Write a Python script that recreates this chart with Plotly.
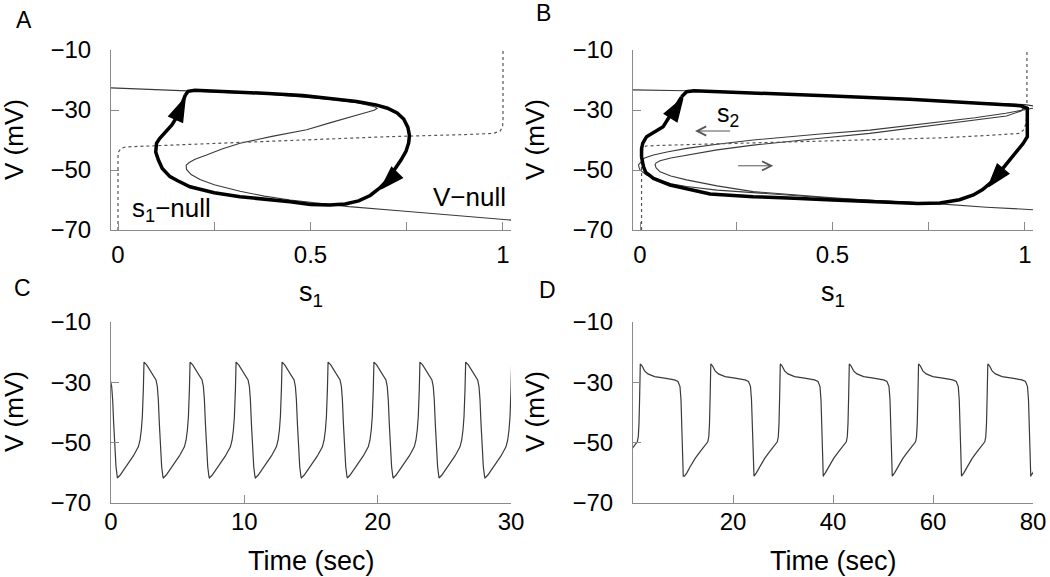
import plotly.graph_objects as go

# ---------------- Panel A (phase plane) ----------------
A_vnull_s = [-0.02, 0.18, 0.39, 0.56, 0.62, 0.65, 0.668, 0.673,
             0.665, 0.64, 0.60, 0.55, 0.49, 0.40, 0.317, 0.27, 0.23, 0.20, 0.185, 0.177,
             0.178, 0.19, 0.213, 0.25, 0.317, 0.38, 0.447, 0.533, 0.60, 0.73, 0.85, 0.95, 1.03]
A_vnull_v = [-22.6, -23.6, -24.7, -26.6, -27.6, -28.4, -29.0, -29.5,
             -30.1, -31.0, -32.4, -34.3, -36.6, -38.8, -41.1, -43.0, -45.0, -46.4, -47.5, -48.4,
             -49.8, -51.5, -53.2, -54.9, -57.1, -58.7, -60.0, -61.3, -62.2, -63.6, -64.9, -65.9, -66.8]
A_snull_s = [0.0, 0.0, 0.002, 0.008, 0.02, 0.1, 0.3, 0.5, 0.7, 0.9, 0.975, 0.993, 0.999, 1.0, 1.0]
A_snull_v = [-70, -45.5, -43.8, -42.8, -42.3, -41.9, -40.9, -39.8, -38.9, -38.2, -37.8, -37.0, -35.5, -33, -10]
A_orbit_s = [0.175, 0.182, 0.20, 0.30, 0.39, 0.48, 0.56, 0.62, 0.67, 0.70, 0.725, 0.742, 0.753, 0.757,
             0.755, 0.748, 0.735, 0.718, 0.70, 0.68, 0.655, 0.625, 0.59, 0.55, 0.50, 0.447, 0.38,
             0.317, 0.25, 0.187, 0.155, 0.135, 0.115, 0.105, 0.098, 0.1, 0.108, 0.122, 0.14, 0.152,
             0.16, 0.166, 0.171, 0.175]
A_orbit_v = [-25.0, -23.8, -23.4, -23.9, -24.5, -25.2, -26.2, -27.2, -28.3, -29.4, -31.0, -33.0, -35.8, -38.5,
             -41.0, -43.8, -46.7, -50.0, -53.3, -56.0, -58.5, -60.3, -61.3, -61.7, -61.5, -60.6, -59.7,
             -58.9, -57.6, -55.6, -53.6, -52.2, -49.5, -46.7, -44.0, -41.1, -39.5, -37.5, -35.0, -32.5,
             -30.0, -27.8, -26.0, -25.0]
# arrowheads: (point behind, tip)
A_arrow_s = [0.150, 0.174, 0.725, 0.683]
A_arrow_v = [-33.0, -26.1, -50.8, -56.3]

# ---------------- Panel B (phase plane) ----------------
B_n1_s = [-0.02, 0.12, 0.3, 0.5, 0.7, 0.85, 0.95, 1.0, 1.025, 1.03,
          1.02, 0.98, 0.95, 0.87, 0.779, 0.69, 0.597, 0.468, 0.38, 0.294, 0.2, 0.121, 0.07, 0.035,
          0.012, 0.002, -0.004,
          -0.002, 0.0, 0.017, 0.04, 0.08, 0.121, 0.2, 0.294, 0.4, 0.5, 0.6, 0.7, 0.779, 0.9, 1.03]
B_n1_v = [-23.3, -23.6, -24.4, -25.4, -26.5, -27.3, -27.9, -28.2, -28.5, -28.8,
          -29.4, -30.4, -31.1, -32.6, -33.9, -35.3, -36.7, -38.0, -39.0, -40.0, -41.4, -42.8, -44.0, -45.0,
          -46.0, -47.3, -48.3,
          -49.3, -50.0, -51.7, -53.0, -54.6, -55.5, -56.7, -57.6, -58.6, -59.4, -60.1, -60.8, -61.3, -62.4, -63.3]
B_n2_s = [0.95, 0.985, 0.996,
          0.99, 0.952, 0.87, 0.779, 0.69, 0.597, 0.468, 0.38, 0.294, 0.2, 0.121, 0.08, 0.052, 0.042, 0.039,
          0.042, 0.052, 0.08, 0.121, 0.2, 0.294, 0.4, 0.5, 0.6, 0.7, 0.779]
B_n2_v = [-27.9, -28.6, -29.5,
          -30.3, -32.0, -33.3, -34.7, -36.2, -37.8, -39.4, -40.5, -41.7, -43.3, -45.0, -46.0, -46.9, -47.6, -48.3,
          -49.3, -50.6, -52.0, -53.3, -55.3, -57.2, -58.4, -59.3, -60.1, -60.8, -61.3]
B_snull_s = [0.004, 0.004, 0.006, 0.015, 0.05, 0.2, 0.4, 0.6, 0.779, 0.9, 0.985, 0.998, 1.003, 1.005, 1.005]
B_snull_v = [-70, -46, -43.5, -42.0, -41.8, -41.3, -40.5, -39.9, -39.3, -38.5, -37.8, -36.5, -34, -31, -10]
B_orbit_s = [0.108, 0.121, 0.14, 0.3, 0.5, 0.7, 0.85, 0.95, 0.99, 1.006, 1.006, 1.006, 0.995, 0.978,
             0.955, 0.935, 0.915, 0.89, 0.866, 0.83, 0.779, 0.723, 0.65, 0.5, 0.4, 0.294, 0.182, 0.121,
             0.078, 0.035, 0.015, 0.009, 0.004, 0.004, 0.007, 0.017, 0.035, 0.06, 0.075, 0.091, 0.100, 0.108]
B_orbit_v = [-25.6, -23.9, -23.6, -24.3, -25.3, -26.4, -27.4, -28.1, -28.6, -29.5, -33.0, -38.9, -41.2, -43.9,
             -47.8, -50.8, -53.8, -56.5, -58.3, -59.9, -61.0, -61.2, -60.9, -60.0, -59.4, -58.9, -58.0, -56.1,
             -55.0, -52.8, -50.8, -48.9, -45.6, -43.0, -41.1, -38.9, -37.5, -35.6, -32.5, -29.4, -27.5, -25.6]
B_arrow_s = [0.075, 0.111, 0.955, 0.905]
B_arrow_v = [-33.5, -26.1, -47.8, -55.5]
B_shift_tail_s = [0.238, 0.251]
B_shift_head_s = [0.143, 0.346]
B_shift_v = [-37.0, -48.6]

# ---------------- Panel C / D (voltage traces) ----------------
C_wave_dt = [0, 0.2, 0.7, 1.2, 1.575, 1.7, 1.8, 1.875, 1.95, 2.0, 2.2, 2.45, 2.7, 2.9, 3.0,
             3.075, 3.15, 3.225, 3.325, 3.42]
C_wave_v = [-61.7, -60.8, -57.5, -54.4, -51.4, -49.2, -45.8, -41.4, -32.5, -23.3, -24.2, -25.9,
            -27.5, -29.2, -31.4, -35.8, -43.6, -51.4, -58.0, -61.3]
C_troughs = [-2.95, 0.475, 3.93, 7.38, 10.83, 14.28, 17.72, 21.17, 24.6, 28.05]

D_wave_dt = [0, 0.47, 1.13, 2.13, 3.13, 4.13, 4.66, 4.86, 5.0, 5.13, 5.26, 5.6, 6.12, 6.79, 8.12,
             10.1, 12.1, 12.8, 13.2, 13.4, 13.6, 13.75, 13.85]
D_wave_v = [-61.1, -60.0, -58.0, -55.2, -53.0, -51.0, -49.7, -48.0, -43.6, -34.7, -23.9, -24.5,
            -26.2, -27.2, -28.1, -28.6, -29.2, -29.7, -31.4, -35.8, -49.2, -58.5, -61.1]
D_troughs = [-3.8, 10.3, 24.2, 38.0, 51.85, 65.7, 79.5]

V_ticks = [-10, -30, -50, -70]
s_ticks = [0, 0.5, 1]
s_minor_ticks = [0.25, 0.75]
C_ticks = [0, 10, 20, 30]
D_ticks = [20, 40, 60, 80]

C_t = [T + d for T in C_troughs for d in C_wave_dt]
C_v = [v for T in C_troughs for v in C_wave_v]
D_t = [T + d for T in D_troughs for d in D_wave_dt]
D_v = [v for T in D_troughs for v in D_wave_v]

FONT = "Liberation Sans, Arial, Helvetica, sans-serif"
THIN = "#3a3a3a"
AXC = "#8a8a8a"

fig = go.Figure()

def line(x, y, xa, ya, color=THIN, width=1.1, dash=None):
    fig.add_trace(go.Scatter(x=x, y=y, xaxis=xa, yaxis=ya, mode="lines",
                             line=dict(color=color, width=width, dash=dash),
                             hoverinfo="skip", showlegend=False))

def arrows(x, y, xa, ya):
    fig.add_trace(go.Scatter(x=x, y=y, xaxis=xa, yaxis=ya, mode="markers", opacity=1,
                             marker=dict(symbol="arrow", size=[0, 24, 0, 24], color="#000000",
                                         opacity=1, angleref="previous",
                                         line=dict(width=1.5, color="#000000")),
                             hoverinfo="skip", showlegend=False))

# A
line(A_vnull_s, A_vnull_v, "x", "y")
line(A_snull_s, A_snull_v, "x", "y", color="#555555", width=1.2, dash="dot")
line(A_orbit_s, A_orbit_v, "x", "y", color="black", width=3.5)
arrows(A_arrow_s, A_arrow_v, "x", "y")
# B
line(B_n1_s, B_n1_v, "x2", "y2")
line(B_n2_s, B_n2_v, "x2", "y2")
line(B_snull_s, B_snull_v, "x2", "y2", color="#555555", width=1.2, dash="dot")
line(B_orbit_s, B_orbit_v, "x2", "y2", color="black", width=3.5)
arrows(B_arrow_s, B_arrow_v, "x2", "y2")
# C, D
line(C_t, C_v, "x3", "y3", width=1.2)
line(D_t, D_v, "x4", "y4", width=1.2)

W, H = 1050, 577
def px(x):
    return x / W
def py(y):
    return 1 - y / H

axis_common = dict(showline=True, linecolor=AXC, linewidth=1, ticks="inside", ticklen=8,
                   tickcolor=AXC, tickwidth=1, showgrid=False, zeroline=False, automargin=False,
                   tickfont=dict(family=FONT, size=24, color="black"))
minor_s = dict(tickvals=s_minor_ticks, ticks="inside", ticklen=8, tickcolor=AXC, tickwidth=1,
               showgrid=False)

top_dom = [py(230), py(50)]
bot_dom = [py(503), py(322)]
left_dom = [px(111), px(511)]
right_dom = [px(633), px(1033)]

fig.update_layout(
    width=W, height=H, autosize=False,
    margin=dict(l=0, r=0, t=0, b=0, autoexpand=False),
    paper_bgcolor="white", plot_bgcolor="white",
    font=dict(family=FONT, color="black"),
    xaxis=dict(domain=left_dom, range=[-0.0182, 1.0208], anchor="y",
               tickvals=s_ticks, minor=minor_s, ticklabelstandoff=3, **axis_common),
    yaxis=dict(domain=top_dom, range=[-70, -10], anchor="x", tickvals=V_ticks,
               ticklabelstandoff=14, **axis_common),
    xaxis2=dict(domain=right_dom, range=[-0.0182, 1.0208], anchor="y2",
                tickvals=s_ticks, minor=minor_s, ticklabelstandoff=3, **axis_common),
    yaxis2=dict(domain=top_dom, range=[-70, -10], anchor="x2", tickvals=V_ticks,
                ticklabelstandoff=14, **axis_common),
    xaxis3=dict(domain=left_dom, range=[0, 30], anchor="y3", tickvals=C_ticks,
                ticklabelstandoff=-3, **axis_common),
    yaxis3=dict(domain=bot_dom, range=[-70, -10], anchor="x3", tickvals=V_ticks,
                ticklabelstandoff=14, **axis_common),
    xaxis4=dict(domain=right_dom, range=[0, 80], anchor="y4", tickvals=D_ticks,
                ticklabelstandoff=-3, **axis_common),
    yaxis4=dict(domain=bot_dom, range=[-70, -10], anchor="x4", tickvals=V_ticks,
                ticklabelstandoff=14, **axis_common),
)

ann = []
def ptext(text, x, y, size, angle=0):
    ann.append(dict(text=text, x=px(x), y=py(y), xref="paper", yref="paper", showarrow=False,
                    xanchor="center", yanchor="middle", textangle=angle,
                    font=dict(family=FONT, size=size, color="black")))

for lab, x, y in [("A", 24, 20), ("B", 543, 13), ("C", 22, 288), ("D", 547, 290)]:
    ptext(lab, x, y, 23)
for x, y in [(14, 140), (535, 140), (14, 412), (535, 412)]:
    ptext("V (mV)", x, y, 26, -90)
ptext("s<sub>1</sub>", 311, 294, 27)
ptext("s<sub>1</sub>", 833, 294, 27)
ptext("Time (sec)", 311, 561, 27)
ptext("Time (sec)", 833, 561, 27)

ann.append(dict(text="s<sub>1</sub>−null", x=0.14, y=-63.3, xref="x", yref="y", showarrow=False,
                font=dict(family=FONT, size=26, color="black")))
ann.append(dict(text="V−null", x=0.914, y=-59.0, xref="x", yref="y", showarrow=False,
                font=dict(family=FONT, size=26, color="black")))
ann.append(dict(text="s<sub>2</sub>", x=0.229, y=-31.7, xref="x2", yref="y2", showarrow=False,
                font=dict(family=FONT, size=25, color="black")))
for ts, hs, v in zip(B_shift_tail_s, B_shift_head_s, B_shift_v):
    ann.append(dict(text="", x=hs, y=v, ax=ts, ay=v, xref="x2", yref="y2", axref="x2", ayref="y2",
                    showarrow=True, arrowhead=5, arrowsize=1.8, arrowwidth=1, arrowcolor="#555555"))

fig.update_layout(annotations=ann)
fig.write_html("out.html", config={"displayModeBar": False},
               post_script="document.body.style.margin='0px';document.body.style.overflow='hidden';")
